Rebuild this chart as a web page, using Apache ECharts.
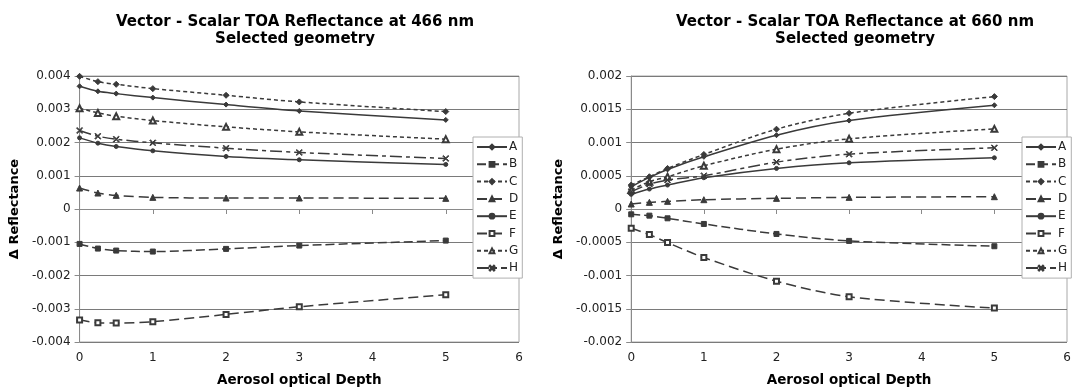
<!DOCTYPE html>
<html>
<head>
<meta charset="utf-8">
<script src="https://cdn.jsdelivr.net/npm/echarts@6/dist/echarts.min.js"></script>
<style>
  html, body { margin: 0; padding: 0; background: #fff; }
  .wrap { width: 1088px; height: 392px; display: flex; }
  .chart { width: 544px; height: 392px; }
</style>
</head>
<body>
<div class="wrap">
  <div id="left" class="chart"></div>
  <div id="right" class="chart"></div>
</div>
<script>
// aerosol optical depth
const depths = [0, 0.25, 0.5, 1, 2, 3, 5];
const names = ['A', 'B', 'C', 'D', 'E', 'F', 'G', 'H'];

// 466 nm
const a466 = [0.00369, 0.00354, 0.00347, 0.00335, 0.00314, 0.00295, 0.00268];
const b466 = [-0.00105, -0.00119, -0.00125, -0.00128, -0.00120, -0.00110, -0.00095];
const c466 = [0.00399, 0.00383, 0.00375, 0.00362, 0.00342, 0.00322, 0.00293];
const d466 = [0.00063, 0.00048, 0.00041, 0.00035, 0.00033, 0.00033, 0.00032];
const e466 = [0.00214, 0.00198, 0.00188, 0.00175, 0.00158, 0.00148, 0.00134];
const f466 = [-0.00334, -0.00342, -0.00343, -0.00339, -0.00317, -0.00294, -0.00258];
const g466 = [0.00303, 0.00289, 0.00279, 0.00266, 0.00247, 0.00232, 0.00210];
const h466 = [0.00236, 0.00219, 0.00210, 0.00199, 0.00183, 0.00170, 0.00152];

// 660 nm
const a660 = [0.000335, 0.000475, 0.000595, 0.000785, 0.00111, 0.00133, 0.00156];
const b660 = [-0.00008, -0.0001, -0.00014, -0.000225, -0.000375, -0.00048, -0.00056];
const c660 = [0.00036, 0.000485, 0.00061, 0.00082, 0.0012, 0.00144, 0.00169];
const d660 = [0.000075, 0.0001, 0.000115, 0.00014, 0.00016, 0.000175, 0.000185];
const e660 = [0.00022, 0.0003, 0.00036, 0.00047, 0.00061, 0.000695, 0.00077];
const f660 = [-0.00029, -0.000385, -0.000505, -0.00073, -0.001085, -0.00132, -0.00149];
const g660 = [0.000285, 0.00041, 0.000485, 0.00065, 0.0009, 0.001055, 0.001205];
const h660 = [0.00026, 0.000375, 0.000435, 0.0005, 0.000705, 0.000825, 0.00092];

const FONT = 'DejaVu Sans';
const INK = '#3a3a3a';
const xShape = 'path://M0,1L1,0L5,4L9,0L10,1L6,5L10,9L9,10L5,6L1,10L0,9L4,5Z';

// look of each curve
const looks = {
  A: { type: 'solid', symbol: 'diamond', size: 5 },
  B: { type: [9, 4], symbol: 'rect', size: 5 },
  C: { type: [4, 3], symbol: 'diamond', size: 6 },
  D: { type: [10, 5], symbol: 'triangle', size: 6 },
  E: { type: 'solid', symbol: 'circle', size: 4 },
  F: { type: [10, 5], symbol: 'emptyRect', size: 5 },
  G: { type: [4, 3], symbol: 'emptyTriangle', size: 6 },
  H: { type: [12, 4, 4, 4], symbol: xShape, size: 6 }
};

function fmt(v) { return String(parseFloat(v.toFixed(5))); }

function build(cfg) {
  return {
    backgroundColor: '#fff',
    animation: false,
    title: {
      text: cfg.title + '\nSelected geometry',
      left: cfg.titleX, top: 9, textAlign: 'center',
      textStyle: { fontFamily: FONT, fontSize: 15, fontWeight: 'bold', color: '#000', lineHeight: 17 }
    },
    legend: {
      orient: 'vertical',
      left: cfg.legendX, top: 137,
      padding: [4, 4, 4, 3],
      itemWidth: 30, itemHeight: 6, itemGap: 5.3,
      backgroundColor: '#fff', borderColor: '#b0b0b0', borderWidth: 1,
      textStyle: { fontFamily: FONT, fontSize: 12, lineHeight: 12, color: '#222', padding: [0, 0, 0, -3] },
      data: names
    },
    grid: {
      left: cfg.gridLeft, width: cfg.gridWidth, top: 76, height: 266,
      show: true, borderColor: '#a8a8a8', borderWidth: 1
    },
    xAxis: {
      type: 'value', min: 0, max: 6, interval: 1,
      name: 'Aerosol optical Depth', nameLocation: 'middle', nameGap: 31,
      nameTextStyle: { fontFamily: FONT, fontSize: 13.5, fontWeight: 'bold', color: '#000' },
      axisLine: { lineStyle: { color: '#8a8a8a' } },
      axisTick: { show: true, length: 5, lineStyle: { color: '#8a8a8a' } },
      axisLabel: { fontFamily: FONT, fontSize: 12, color: '#222', margin: 10 },
      splitLine: { show: false }
    },
    yAxis: {
      type: 'value', min: cfg.yMin, max: cfg.yMax, interval: cfg.yStep,
      name: '\u0394 Reflectance', nameLocation: 'middle', nameGap: cfg.nameGap,
      nameTextStyle: { fontFamily: FONT, fontSize: 13, fontWeight: 'bold', color: '#000' },
      axisLine: { show: true, onZero: false, lineStyle: { color: '#8a8a8a' } },
      axisTick: { show: true, length: 5, lineStyle: { color: '#8a8a8a' } },
      axisLabel: { fontFamily: FONT, fontSize: 12, color: '#222', margin: 9, formatter: fmt },
      splitLine: { show: true, lineStyle: { color: '#7a7a7a', width: 1 } }
    },
    series: names.map((n, i) => ({
      name: n,
      type: 'line',
      smooth: 0.3,
      data: depths.map((x, j) => [x, cfg.values[i][j]]),
      symbol: looks[n].symbol,
      symbolSize: looks[n].size,
      showSymbol: true,
      lineStyle: { color: INK, width: 1.5, type: looks[n].type },
      itemStyle: { color: INK, borderColor: INK, borderWidth: 1 },
      z: 2
    }))
  };
}

const leftChart = echarts.init(document.getElementById('left'));
leftChart.setOption(build({
  title: 'Vector - Scalar TOA Reflectance at 466 nm',
  titleX: 290, legendX: 473,
  gridLeft: 74, gridWidth: 445,
  yMin: -0.004, yMax: 0.004, yStep: 0.001, nameGap: 48,
  values: [a466, b466, c466, d466, e466, f466, g466, h466]
}));

const rightChart = echarts.init(document.getElementById('right'));
rightChart.setOption(build({
  title: 'Vector - Scalar TOA Reflectance at 660 nm',
  titleX: 306, legendX: 478,
  gridLeft: 85, gridWidth: 438,
  yMin: -0.002, yMax: 0.002, yStep: 0.0005, nameGap: 58,
  values: [a660, b660, c660, d660, e660, f660, g660, h660]
}));
</script>
</body>
</html>
